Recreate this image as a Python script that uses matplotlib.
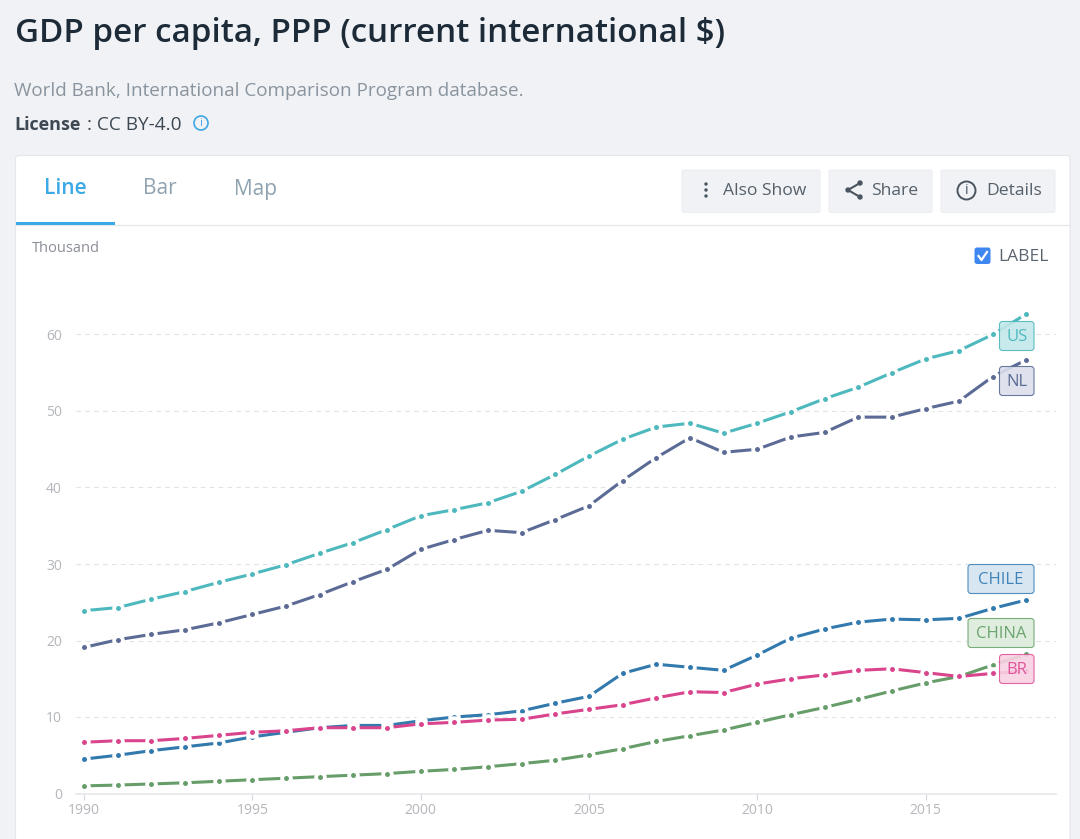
import matplotlib
matplotlib.use("Agg")
import matplotlib.pyplot as plt
from matplotlib.patches import Circle, FancyBboxPatch, Rectangle

plt.rcParams["font.family"] = ["Open Sans", "Noto Sans", "DejaVu Sans"]

W, H = 1080, 839
BG = "#f0f2f6"

years = list(range(1990, 2019))
us = [23.9, 24.3, 25.4, 26.4, 27.6, 28.7, 29.9, 31.4, 32.8, 34.5, 36.3, 37.1, 38.0, 39.5, 41.7,
      44.1, 46.3, 47.9, 48.4, 47.1, 48.4, 49.9, 51.6, 53.1, 55.0, 56.8, 57.9, 60.0, 62.7]
nl = [19.1, 20.1, 20.8, 21.4, 22.3, 23.4, 24.5, 26.0, 27.7, 29.3, 31.9, 33.2, 34.4, 34.1, 35.8,
      37.6, 40.9, 43.9, 46.5, 44.6, 45.0, 46.6, 47.2, 49.2, 49.2, 50.3, 51.3, 54.5, 56.7]
chile = [4.5, 5.0, 5.6, 6.1, 6.6, 7.4, 8.0, 8.6, 8.9, 8.9, 9.5, 10.0, 10.3, 10.8, 11.8,
         12.7, 15.7, 16.9, 16.5, 16.1, 18.1, 20.3, 21.5, 22.4, 22.8, 22.7, 22.9, 24.2, 25.3]
br = [6.7, 6.9, 6.9, 7.2, 7.6, 8.0, 8.2, 8.6, 8.6, 8.6, 9.1, 9.3, 9.6, 9.7, 10.4,
      11.0, 11.6, 12.5, 13.3, 13.2, 14.3, 15.0, 15.5, 16.1, 16.3, 15.8, 15.3, 15.7, 16.0]
china = [1.0, 1.1, 1.25, 1.4, 1.6, 1.8, 2.0, 2.2, 2.4, 2.6, 2.9, 3.15, 3.5, 3.9, 4.35,
         5.05, 5.85, 6.8, 7.55, 8.3, 9.3, 10.3, 11.25, 12.3, 13.4, 14.45, 15.3, 16.8, 18.2]
y_ticks = [0, 10, 20, 30, 40, 50, 60]
x_ticks = [1990, 1995, 2000, 2005, 2010, 2015]

series = [("US", us, "#4db8bd"), ("NL", nl, "#5b6b95"), ("CHINA", china, "#669d69"),
          ("CHILE", chile, "#3279ad"), ("BR", br, "#d9448c")]


def rbox(ax, x0, y0, x1, y1, r=3, fc="white", ec="none", lw=0.8, alpha=None, z=1):
    ax.add_patch(FancyBboxPatch((x0, y0), x1 - x0, y1 - y0, boxstyle=f"round,pad=0,rounding_size={r}",
                                fc=fc, ec=ec, lw=lw, alpha=alpha, zorder=z))


def px_axes(z):
    ax = fig.add_axes([0, 0, 1, 1], zorder=z)
    ax.set_xlim(0, W)
    ax.set_ylim(H, 0)
    ax.axis("off")
    return ax


fig = plt.figure(figsize=(W / 100, H / 100), dpi=100, facecolor=BG)
back = px_axes(0)

# page header
back.text(15, 34, "GDP per capita, PPP (current international $)", fontsize=23.9, weight=600,
          color="#1d2b38", va="center")
back.text(14, 91.5, "World Bank, International Comparison Program database.", fontsize=13.55,
          color="#8a949e", va="center")
back.text(14, 124.5, "License", fontsize=13, weight="bold", color="#3d4852", va="center")
back.text(87, 124.5, ": CC BY-4.0", fontsize=13.7, color="#3d4852", va="center")
back.add_patch(Circle((201, 123), 7, fc="none", ec="#3fa7e6", lw=1.2))
back.text(201, 123, "i", fontsize=8, color="#3fa7e6", ha="center", va="center")

# card and tabs
rbox(back, 15.5, 155.5, 1070, 860, r=3, ec="#e4e7ec", z=1)
back.plot([16, 1070], [225, 225], color="#e6e8ec", lw=1, zorder=2)
back.add_patch(Rectangle((16, 222), 99, 3, fc="#3ba9e6", ec="none", zorder=3))
back.text(65, 189, "Line", fontsize=15, weight=600, color="#3ba9e6", ha="center", va="center")
back.text(160, 189, "Bar", fontsize=15, color="#8ea2b0", ha="center", va="center")
back.text(255, 189, "Map", fontsize=15, color="#8ea2b0", ha="center", va="center")

# buttons
for x0, x1 in [(682, 820), (829, 932), (941, 1055)]:
    rbox(back, x0, 170, x1, 212.5, r=2, fc="#f0f2f5", ec="#eceef1", z=2)
for y in (184, 190, 196):
    back.add_patch(Circle((706, y), 1.7, fc="#4a5560", ec="none", zorder=3))
back.text(723, 191, "Also Show", fontsize=12.6, color="#56606a", va="center", zorder=3)
back.plot([860, 848, 860], [183, 190, 197], color="#4a5560", lw=1.5, zorder=3)
for x, y in [(860, 183), (848, 190), (860, 197)]:
    back.add_patch(Circle((x, y), 2.7, fc="#4a5560", ec="none", zorder=3))
back.text(871, 191, "Share", fontsize=12.6, color="#56606a", va="center", zorder=3)
back.add_patch(Circle((966.5, 190.5), 9, fc="none", ec="#4a5560", lw=1.4, zorder=3))
back.text(966.5, 190.5, "i", fontsize=10, color="#4a5560", ha="center", va="center", zorder=3)
back.text(986, 191, "Details", fontsize=12.6, color="#56606a", va="center", zorder=3)

# chart extras
back.text(32, 248, "Thousand", fontsize=10.5, color="#8a8f96", va="center")
rbox(back, 974.5, 247.5, 990.5, 264, r=2.5, fc="#3f87f0", z=2)
back.plot([978.5, 981.5, 987], [256, 260, 252], color="white", lw=1.6, zorder=3)
back.text(998, 257, "LABEL", fontsize=12.5, color="#5b6570", va="center")

# line chart, axes placed so 1990 -> 84px, 2015 -> 925.5px, 0 -> 793.5px, 60 -> 334.5px
px_per_year = (925.5 - 84) / 25
px_per_unit = (793.5 - 334.5) / 60
left, right, top, bottom = 76, 1056, 280, 793.5
ax = fig.add_axes([left / W, 1 - bottom / H, (right - left) / W, (bottom - top) / H], zorder=1)
ax.patch.set_alpha(0)
ax.set_xlim(1990 - (84 - left) / px_per_year, 1990 + (right - 84) / px_per_year)
ax.set_ylim(0, (bottom - top) / px_per_unit)
for name, vals, color in series:
    ax.plot(years, vals, color=color, lw=2.2, marker="o", ms=6.3, mfc=color, mec="white", mew=2.7,
            clip_on=False, solid_capstyle="butt")
ax.set_yticks(y_ticks)
ax.set_xticks(x_ticks)
ax.grid(axis="y", color="#e0e2e5", lw=0.8, dashes=(4, 4))
ax.set_axisbelow(True)
for s in ("top", "right", "left"):
    ax.spines[s].set_visible(False)
ax.spines["bottom"].set_color("#e6e8ec")
ax.spines["bottom"].set_linewidth(1.2)
ax.tick_params(axis="y", length=0, labelsize=10, labelcolor="#b3b6ba", pad=10)
ax.tick_params(axis="x", length=4, width=0.8, color="#d5d7db", labelsize=10, labelcolor="#b3b6ba", pad=3)

# end labels
front = px_axes(2)
labels = [("US", 999.5, 1034, 321.5, 350.5, "#4db8bd", "#c4e8ea"),
          ("NL", 999.5, 1034, 366.5, 395.5, "#5b6b95", "#dcdfec"),
          ("CHILE", 968, 1034, 564.5, 593.5, "#3f83b8", "#d4e4f1"),
          ("CHINA", 968, 1034, 618.5, 647.5, "#6ba56e", "#dcebdc"),
          ("BR", 999.5, 1034, 654.5, 683.5, "#e0559a", "#f8d2e3")]
for name, x0, x1, y0, y1, tc, fc in labels:
    rbox(front, x0, y0, x1, y1, r=3, fc=fc, ec=tc, lw=0.8, alpha=0.9, z=2)
    front.text((x0 + x1) / 2, (y0 + y1) / 2 + 1, name, fontsize=12, color=tc, ha="center", va="center", zorder=3)

fig.savefig("out.png", dpi=100, facecolor=BG)
